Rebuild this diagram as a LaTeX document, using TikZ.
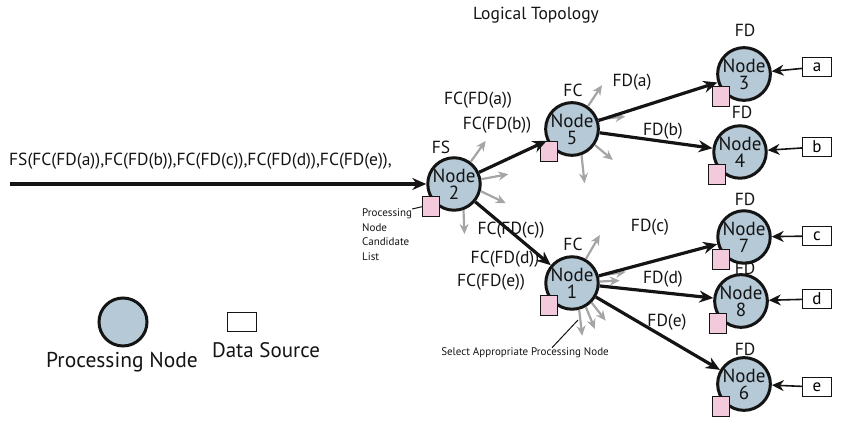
\documentclass[tikz,border=0pt]{standalone}
\usepackage{fontspec}
\setmainfont{PT Sans}
\usetikzlibrary{
    arrows.meta,
    calc,
    positioning
}
\definecolor{ink}{RGB}{20,20,20}
\definecolor{nodefill}{RGB}{181,201,214}
\definecolor{listfill}{RGB}{243,201,220}
\definecolor{probegray}{RGB}{165,165,165}
\tikzset{
    line cap=round,
    line join=round,
    procnode/.style={
        circle,
        draw=ink,
        line width=3pt,
        fill=nodefill,
        minimum size=48pt,
        inner sep=0pt,
        align=center,
        font=\fontsize{19}{17}\selectfont,
        execute at begin node={\rule{0pt}{23pt}},
        text=ink
    },
    candlist/.style={
        rectangle,
        draw=ink,
        line width=0.9pt,
        fill=listfill,
        minimum width=17pt,
        minimum height=20pt,
        inner sep=0pt
    },
    datasrc/.style={
        rectangle,
        draw=ink,
        line width=0.9pt,
        fill=white,
        minimum width=29pt,
        minimum height=19pt,
        inner sep=0pt,
        font=\fontsize{17}{17}\selectfont
    },
    flow/.style={
        -{Stealth[length=14pt,width=12pt]},
        draw=ink,
        line width=3.2pt
    },
    feed/.style={
        -{Stealth[length=12pt,width=11pt]},
        draw=ink,
        line width=1.6pt
    },
    probe/.style={
        -{Stealth[length=10pt,width=9pt]},
        draw=probegray,
        line width=2.2pt
    },
    msg/.style={
        font=\fontsize{17.5}{17.5}\selectfont,
        text=ink,
        inner sep=1pt
    },
    legend/.style={
        msg,
        font=\fontsize{21.5}{21.5}\selectfont
    },
    note/.style={
        font=\fontsize{11}{14.5}\selectfont,
        text=ink,
        inner sep=0pt
    },
    pointer/.style={
        draw=ink,
        line width=1pt
    }
}

\begin{document}
\begin{tikzpicture}[x=1pt, y=1pt]
\useasboundingbox (0,0) rectangle (846,427);

\node[msg] (title) at (536,412) {Logical Topology};

% processing nodes
\node[procnode] (n2) at (454,243) {Node\\2};
\node[procnode] (n5) at (572,298) {Node\\5};
\node[procnode] (n1) at (572,144) {Node\\1};
\node[procnode] (n3) at (744,353) {Node\\3};
\node[procnode] (n4) at (740,275) {Node\\4};
\node[procnode] (n7) at (744,190) {Node\\7};
\node[procnode] (n8) at (741,126) {Node\\8};
\node[procnode] (n6) at (744,43) {Node\\6};

\foreach \n in {n2,n5,n1,n3,n4,n7,n8,n6}
    \node[candlist] (list-\n) at ($(\n.-135)+(-3,-3)$) {};

% roles
\node[msg] (role2) at (441,280) {FS};
\node[msg] (role5) at (573,337) {FC};
\node[msg] (role1) at (573,183) {FC};
\node[msg] (role3) at (745,397) {FD};
\node[msg] (role4) at (742,315) {FD};
\node[msg] (role7) at (745,228) {FD};
\node[msg] (role8) at (745,159) {FD};
\node[msg] (role6) at (745,78) {FD};

% messages
\node[msg, anchor=west] (fsmsg) at (8,266) {FS(FC(FD(a)),FC(FD(b)),FC(FD(c)),FC(FD(d)),FC(FD(e)),};
\node[msg] (fca) at (478,327) {FC(FD(a))};
\node[msg] (fcb) at (497,302) {FC(FD(b))};
\node[msg] (fcc) at (511,197) {FC(FD(c))};
\node[msg] (fcd) at (505,168) {FC(FD(d))};
\node[msg] (fce) at (491,145) {FC(FD(e))};
\node[msg] (fda) at (632,345) {FD(a)};
\node[msg] (fdb) at (663,296) {FD(b)};
\node[msg] (fdc) at (650,200) {FD(c)};
\node[msg] (fdd) at (663,148) {FD(d)};
\node[msg] (fde) at (667,105) {FD(e)};

% data sources
\node[datasrc] (srca) at (817,360) {a};
\node[datasrc] (srcb) at (817,280) {b};
\node[datasrc] (srcc) at (817,191) {c};
\node[datasrc] (srcd) at (817,128) {d};
\node[datasrc] (srce) at (817,40) {e};

\foreach \s/\n in {srca/n3,srcb/n4,srcc/n7,srcd/n8,srce/n6}
    \draw[feed] (\s) -- (\n);

% candidate probes
\foreach \n/\ang/\dx/\dy in {
    n2/53/15/21, n2/10/27/5, n2/-15/25/-12, n2/-70/1/-24,
    n5/55/14/21, n5/20/27/3, n5/-35/18/-15, n5/-70/3/-28,
    n1/60/14/24, n1/15/27/4, n1/3/20/1, n1/-45/14/-18, n1/-60/9/-22, n1/-75/3/-26
} {
    \draw[probe] (\n.\ang) -- ++(\dx,\dy);
}

\coordinate (inflow) at (10,243);
\draw[flow] (inflow) -- (n2);
\foreach \a/\b in {n2/n5,n2/n1,n5/n3,n5/n4,n1/n7,n1/n8,n1/n6}
    \draw[flow] (\a) -- (\b);

% notes
\node[note, anchor=north west, align=left] (candnote) at (362,218) {Processing\\Node\\Candidate\\List};
\draw[pointer] (candnote.north east) -- (list-n2.west);

\node[note] (selnote) at (525,74) {Select Appropriate Processing Node};
\coordinate (pick) at (578,107);
\draw[pointer] ([xshift=27pt]selnote.north) -- (pick);

% legend
\node[procnode] (legnode) at (123,105) {};
\node[legend] (legnodetxt) at (122,65) {Processing Node};
\node[datasrc] (legsrc) at (242,105) {};
\node[legend, font=\fontsize{21}{21}\selectfont] (legsrctxt) at (266,77) {Data Source};

\end{tikzpicture}
\end{document}
